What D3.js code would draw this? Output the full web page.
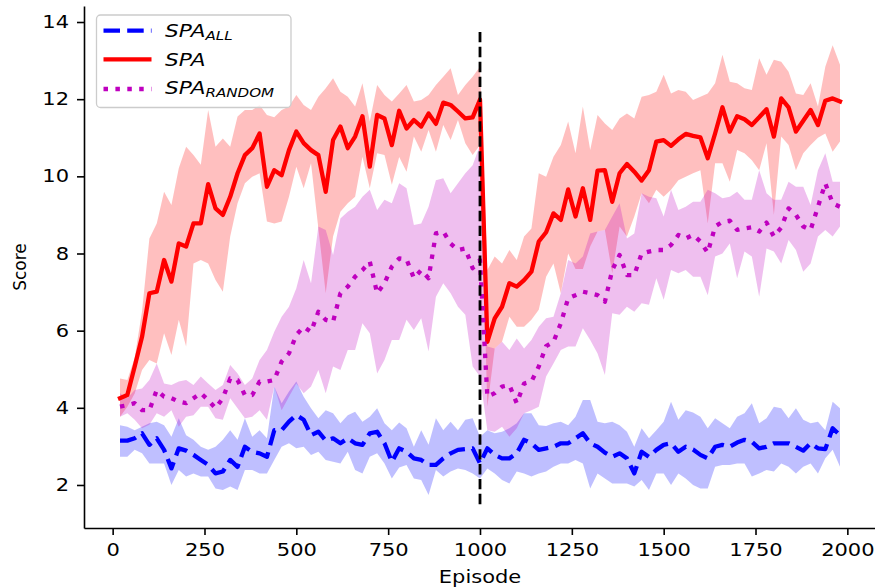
<!DOCTYPE html>
<html>
<head>
<meta charset="utf-8">
<script src="https://cdn.jsdelivr.net/npm/d3@7"></script>
<style>
  html, body { margin: 0; padding: 0; background: #ffffff; }
  svg { display: block; }
</style>
</head>
<body>
<div id="chart"></div>
<script>
// ---------------- data ----------------
const episodes = [20,40,60,80,100,120,140,160,180,200,220,240,260,280,300,320,340,360,380,400,
  420,440,460,480,500,520,540,560,580,600,620,640,660,680,700,720,740,760,780,800,
  820,840,860,880,900,920,940,960,980,1000,1020,1040,1060,1080,1100,1120,1140,1160,1180,1200,
  1220,1240,1260,1280,1300,1320,1340,1360,1380,1400,1420,1440,1460,1480,1500,1520,1540,1560,1580,1600,
  1620,1640,1660,1680,1700,1720,1740,1760,1780,1800,1820,1840,1860,1880,1900,1920,1940,1960,1980];

const spaAllMean = [3.15,3.15,3.21,3.34,3.04,3.21,2.91,2.43,2.95,2.89,2.78,2.65,2.52,2.30,2.35,2.65,2.47,2.99,2.86,2.82,
  2.73,3.42,3.42,3.64,3.81,3.69,3.29,3.38,3.15,3.21,3.08,3.21,3.08,3.04,3.34,3.38,3.08,2.60,2.95,2.86,
  2.69,2.65,2.52,2.52,2.69,2.82,2.91,2.93,2.95,2.56,2.95,2.78,2.69,2.69,2.82,3.17,3.08,2.91,2.95,2.99,
  3.08,3.08,3.21,3.34,3.08,2.99,2.84,2.73,2.82,2.69,2.30,2.86,2.73,2.91,3.04,3.08,2.86,2.99,2.92,2.78,
  2.69,2.99,3.04,2.99,3.10,3.17,3.12,2.95,2.99,3.08,3.08,3.08,2.99,2.89,3.08,2.95,2.93,3.47,3.29];
const spaAllUpper = [3.55,3.51,3.42,3.51,3.60,3.64,3.55,3.25,3.73,3.29,3.17,2.99,2.91,2.99,3.17,3.42,3.17,3.73,3.25,3.42,
  3.21,4.55,4.12,4.42,4.68,4.29,3.99,3.73,3.94,3.86,3.60,3.81,3.90,3.64,3.77,3.99,3.60,3.42,3.62,3.47,
  2.99,3.42,3.04,3.73,3.42,3.64,3.42,3.69,3.73,3.25,3.42,3.34,3.38,3.47,3.60,3.86,3.86,3.55,3.53,3.60,
  3.64,3.55,3.77,4.20,4.20,3.64,3.60,3.64,3.55,3.38,2.99,3.47,3.21,3.42,3.64,4.16,3.69,3.94,3.88,3.77,
  3.47,3.73,3.60,3.47,3.77,3.86,4.12,3.60,3.73,4.03,3.99,3.73,3.99,3.69,3.60,3.64,3.42,4.16,3.99];
const spaAllLower = [2.73,2.73,2.91,2.82,2.56,2.56,2.56,2.00,2.39,2.22,2.30,2.22,2.22,1.91,1.87,1.96,1.87,2.39,2.39,2.30,
  2.30,2.65,2.99,3.08,2.95,2.99,2.78,2.86,2.65,2.60,2.56,2.86,2.39,2.30,2.73,2.82,2.56,2.17,2.45,2.52,
  2.17,2.13,1.74,2.39,2.22,2.35,2.43,2.39,2.30,2.17,2.43,2.30,2.13,2.04,2.35,2.30,2.22,2.30,2.35,2.47,
  2.56,2.56,2.65,2.56,1.91,2.30,2.17,2.04,2.04,2.04,1.96,2.13,1.87,2.30,2.30,2.00,2.30,2.17,2.00,1.91,
  1.91,2.47,2.52,2.52,2.56,2.56,2.22,2.30,2.39,2.35,2.56,2.47,2.30,2.47,2.56,2.30,2.69,2.91,2.47];

const spaMean = [4.25,4.33,5.07,5.84,6.97,7.01,7.83,7.27,8.26,8.18,8.78,8.78,9.80,9.17,9.00,9.47,10.08,10.55,10.73,11.11,
  9.73,10.16,10.03,10.68,11.16,10.86,10.68,10.55,9.60,10.94,11.29,10.73,11.03,11.56,10.25,11.59,11.50,10.81,11.70,11.24,
  11.46,11.29,11.63,11.36,11.91,11.85,11.68,11.50,11.53,11.99,5.71,6.32,6.62,7.23,7.14,7.31,7.53,8.31,8.55,9.04,
  8.87,9.66,8.96,9.69,8.87,10.15,10.16,9.34,10.08,10.32,10.12,9.89,10.16,10.90,10.94,10.79,10.96,11.10,11.05,11.01,
  10.47,11.11,11.79,11.16,11.56,11.48,11.33,11.53,11.74,11.03,12.02,11.79,11.16,11.44,11.72,11.33,11.96,12.02,11.94];
const spaUpper = [4.76,4.72,5.30,6.50,8.39,8.78,9.60,9.26,10.21,10.77,10.55,10.30,11.72,10.77,10.98,10.77,11.55,11.72,11.72,11.85,
  11.59,11.53,11.72,11.81,12.11,11.85,11.72,12.06,12.28,12.54,12.19,12.06,11.81,12.41,11.42,12.37,12.11,11.94,12.15,12.37,
  11.94,11.98,12.11,12.37,12.58,12.80,12.11,12.37,12.58,12.84,7.57,7.92,7.74,8.09,7.83,8.44,8.65,10.08,9.99,10.51,
  10.81,11.42,10.60,11.81,10.68,11.59,11.37,11.20,11.50,11.63,11.50,12.06,12.11,12.19,12.63,12.15,12.24,12.19,11.98,12.06,
  12.15,12.41,13.15,12.45,12.41,12.28,12.24,13.06,12.63,13.02,12.97,12.71,12.15,12.11,12.41,11.81,12.84,13.40,12.89];
const spaLower = [3.77,4.03,4.37,4.98,5.24,5.15,5.93,5.37,6.28,5.59,7.74,7.83,7.74,7.31,7.01,8.44,9.30,9.82,9.99,10.08,
  8.83,8.78,8.83,9.47,10.25,9.69,10.34,8.65,6.97,8.44,9.08,9.30,9.47,10.51,9.69,10.60,10.55,9.78,10.50,10.12,
  11.03,10.64,11.20,10.64,11.33,10.94,11.46,10.86,10.55,10.81,4.03,5.54,5.71,6.36,6.10,6.10,6.28,6.54,7.40,7.74,
  6.97,8.00,7.60,7.60,8.18,8.57,8.61,7.49,8.70,8.44,8.96,9.56,9.30,9.65,9.47,9.65,9.90,9.99,10.08,10.16,
  8.78,10.34,10.34,9.86,10.68,10.60,10.42,10.16,10.86,9.00,11.03,10.81,10.16,10.60,10.81,11.00,11.11,10.64,10.90];

const spaRandomMean = [4.03,4.07,4.12,3.94,3.94,4.46,4.29,4.25,4.16,4.12,4.25,4.38,4.20,3.99,4.25,4.76,4.72,4.33,4.33,4.68,
  4.68,4.72,5.20,5.41,5.89,6.10,5.97,6.49,6.28,6.23,6.97,7.14,7.40,7.57,7.79,6.97,7.23,7.66,7.87,7.85,
  7.36,7.57,7.36,8.52,8.57,8.26,8.09,8.13,7.62,7.83,4.29,4.38,4.55,4.59,4.12,4.63,4.68,5.07,5.60,5.71,
  6.19,6.84,6.92,7.01,6.97,6.92,6.75,7.57,7.96,7.44,7.44,8.00,8.05,8.09,8.09,8.22,8.48,8.39,8.48,8.31,
  8.02,8.70,8.82,8.85,8.61,8.65,8.68,8.57,8.80,8.44,8.67,9.17,9.00,8.70,8.61,9.21,9.82,9.30,9.21];
const spaRandomUpper = [4.38,4.25,4.46,4.50,4.72,5.15,4.63,4.59,4.68,4.72,4.59,4.81,4.63,4.46,4.59,5.11,4.89,4.59,4.76,5.24,
  5.50,5.97,6.36,6.62,7.10,7.83,7.23,8.70,8.61,7.96,8.91,9.08,9.21,9.47,9.65,9.13,9.39,9.30,9.82,9.69,
  8.74,8.78,9.21,9.90,9.95,9.56,9.82,10.08,10.29,10.81,5.59,5.54,5.71,5.50,5.80,5.54,5.76,6.10,6.32,6.36,
  6.97,7.83,7.74,7.92,8.52,8.57,8.61,8.96,9.30,8.39,8.52,9.56,9.47,9.43,8.96,9.65,9.13,9.21,9.34,9.34,
  9.65,9.56,9.43,9.47,9.60,9.39,9.39,10.16,9.56,9.39,9.39,9.86,9.73,9.73,9.26,10.16,10.60,9.86,9.86];
const spaRandomLower = [3.77,3.86,3.69,3.47,3.56,3.86,3.77,3.94,3.51,3.77,3.81,4.03,4.03,3.73,3.69,4.25,3.99,3.73,3.77,3.94,
  3.69,4.55,3.94,4.29,4.63,4.38,4.55,4.98,4.38,5.07,4.98,5.50,5.50,6.19,5.93,4.89,5.24,5.76,5.76,6.28,
  6.02,6.32,5.46,6.88,7.23,6.97,6.62,6.41,5.07,4.81,3.42,3.38,3.51,3.25,3.47,3.86,3.94,4.03,4.81,5.15,
  5.50,5.59,5.59,6.06,5.76,5.41,4.85,6.45,6.41,6.62,6.49,6.71,6.67,7.36,6.80,7.57,7.49,7.57,7.40,7.40,
  6.92,7.92,8.00,8.26,7.36,8.05,7.92,6.88,8.13,8.05,7.74,8.35,8.09,7.53,7.74,8.44,8.61,8.44,8.70];

const switchEpisode = 1000;
const switchRange = [1.5, 13.8];
const xTicks = [0,250,500,750,1000,1250,1500,1750,2000];
const yTicks = [2,4,6,8,10,12,14];
const xLabel = "Episode";
const yLabel = "Score";

// ---------------- chart ----------------
const W = 875, H = 588;
const FONT = "DejaVu Sans";
const STRETCH = 1.2;

const svg = d3.select("#chart").append("svg")
  .attr("width", W).attr("height", H)
  .style("background", "#ffffff");

const x = d3.scaleLinear().domain([-78, 2078]).range([84, 876]);
const y = d3.scaleLinear().domain([0.885, 14.415]).range([528, 6]);

const series = [
  { name: "ALL", mean: spaAllMean, lo: spaAllLower, hi: spaAllUpper, color: "#0000ff", fill: "#0000ff", dash: "16.5,7.2", cap: "butt" },
  { name: "", mean: spaMean, lo: spaLower, hi: spaUpper, color: "#ff0000", fill: "#ff0000", dash: null, cap: "square" },
  { name: "RANDOM", mean: spaRandomMean, lo: spaRandomLower, hi: spaRandomUpper, color: "#bf00bf", fill: "#bf00bf", dash: "4.5,7.4", cap: "butt" }
];

const LW = 4.3;

// fills
series.forEach(s => {
  const rows = episodes.map((e, i) => ({ e, lo: s.lo[i], hi: s.hi[i] }));
  const area = d3.area().x(d => x(d.e)).y0(d => y(d.lo)).y1(d => y(d.hi));
  svg.append("path").datum(rows)
    .attr("d", area)
    .attr("fill", s.fill)
    .attr("fill-opacity", 0.25)
    .attr("stroke", "none");
});

// lines
series.forEach(s => {
  const rows = episodes.map((e, i) => ({ e, v: s.mean[i] }));
  const line = d3.line().x(d => x(d.e)).y(d => y(d.v));
  const p = svg.append("path").datum(rows)
    .attr("d", line)
    .attr("fill", "none")
    .attr("stroke", s.color)
    .attr("stroke-width", LW)
    .attr("stroke-linejoin", "round")
    .attr("stroke-linecap", s.cap === "square" ? "square" : "butt");
  if (s.dash) p.attr("stroke-dasharray", s.dash);
});

// vertical switch line
svg.append("line")
  .attr("x1", x(switchEpisode)).attr("x2", x(switchEpisode))
  .attr("y1", y(switchRange[0])).attr("y2", y(switchRange[1]))
  .attr("stroke", "#000000")
  .attr("stroke-width", 2.8)
  .attr("stroke-dasharray", "10.4,4.5");

// axes
const xAxis = svg.append("g")
  .attr("transform", "translate(0,528)")
  .call(d3.axisBottom(x).tickValues(xTicks).tickFormat(d3.format("d")).tickSize(7).tickPadding(8.5).tickSizeOuter(0));
const yAxis = svg.append("g")
  .attr("transform", "translate(84,0)")
  .call(d3.axisLeft(y).tickValues(yTicks).tickFormat(d3.format("d")).tickSize(7).tickPadding(8).tickSizeOuter(0));

[xAxis, yAxis].forEach(g => {
  g.select(".domain").attr("stroke", "#000").attr("stroke-width", 1.6);
  g.selectAll(".tick line").attr("stroke", "#000").attr("stroke-width", 1.6);
  g.selectAll(".tick text")
    .attr("fill", "#000")
    .style("font-family", FONT)
    .style("font-size", "17.5px");
});
xAxis.selectAll(".tick text").attr("transform", `scale(${STRETCH},1)`);
yAxis.selectAll(".tick text")
  .attr("x", -15 / STRETCH)
  .attr("transform", `scale(${STRETCH},1)`);

// axis labels
svg.append("g")
  .attr("transform", `translate(480,583) scale(${STRETCH},1)`)
  .append("text")
  .attr("text-anchor", "middle")
  .style("font-family", FONT).style("font-size", "17.5px")
  .attr("fill", "#000")
  .text(xLabel);

svg.append("g")
  .attr("transform", `translate(26,267) rotate(-90)`)
  .append("text")
  .attr("text-anchor", "middle")
  .style("font-family", FONT).style("font-size", "17px")
  .attr("fill", "#000")
  .text(yLabel);

// legend
const leg = svg.append("g");
leg.append("rect")
  .attr("x", 96.5).attr("y", 15).attr("width", 194.5).attr("height", 92.5)
  .attr("rx", 4).attr("ry", 4)
  .attr("fill", "#ffffff").attr("fill-opacity", 0.8)
  .attr("stroke", "#cccccc").attr("stroke-width", 1.3);

const rowsY = [30.7, 59.3, 89];
const baseY = [36.7, 66, 94];
series.forEach((s, i) => {
  const ln = leg.append("line")
    .attr("x1", 103.5).attr("x2", 151.5)
    .attr("y1", rowsY[i]).attr("y2", rowsY[i])
    .attr("stroke", s.color).attr("stroke-width", LW)
    .attr("stroke-linecap", "butt");
  if (s.dash) ln.attr("stroke-dasharray", s.dash);
  const t = leg.append("g")
    .attr("transform", `translate(165,${baseY[i]}) scale(${STRETCH},1)`)
    .append("text")
    .style("font-family", FONT).style("font-style", "italic")
    .style("font-size", "18px")
    .attr("fill", "#000");
  t.append("tspan").text("SPA");
  if (s.name) {
    t.append("tspan").attr("dy", 2.8).style("font-size", "12.6px").text(s.name);
  }
});
</script>
</body>
</html>
